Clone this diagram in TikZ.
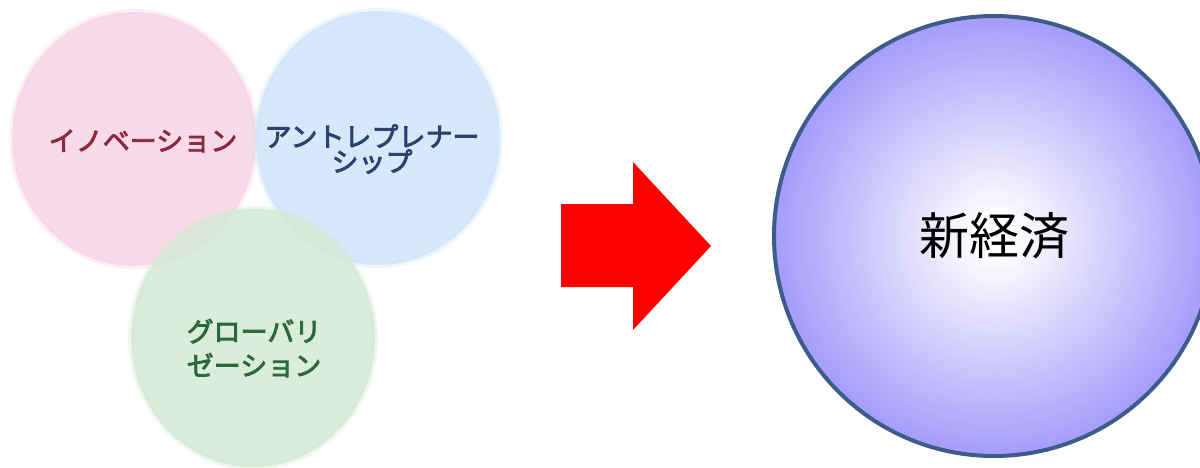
\documentclass[tikz,border=0pt]{standalone}
\usepackage{fontspec}
\usetikzlibrary{shapes.geometric}
\newfontfamily\cjk{Noto Sans CJK JP}
\newfontfamily\cjkb[FakeBold=3]{Noto Sans CJK JP}
\definecolor{pinkfill}{RGB}{248,212,228}
\definecolor{bluefill}{RGB}{206,230,250}
\definecolor{greenfill}{RGB}{212,234,212}
\definecolor{pinktext}{RGB}{140,42,66}
\definecolor{bluetext}{RGB}{44,66,110}
\definecolor{greentext}{RGB}{44,104,62}
\definecolor{bigpurple}{RGB}{160,152,250}
\definecolor{bigedge}{RGB}{62,92,138}
\definecolor{arrowred}{RGB}{255,0,0}
\pgfdeclareradialshading{bigglow}{\pgfpoint{0bp}{0bp}}{color(0bp)=(white); color(2bp)=(white); color(26bp)=(bigpurple); color(50bp)=(bigpurple)}
\tikzset{
  softcircle/.style={ellipse, inner sep=0pt, minimum width=244pt, minimum height=254pt, fill opacity=0.85, draw opacity=0.35, line width=6pt},
  lbl/.style={font=\cjkb\fontsize{27}{25}\selectfont, align=center, inner sep=0pt},
  bigcircle/.style={circle, inner sep=0pt, minimum size=440pt, shading=bigglow, draw=bigedge, line width=4pt},
  bigtext/.style={font=\cjk\fontsize{50}{60}\selectfont, inner sep=0pt}
}
\begin{document}
\begin{tikzpicture}[x=1pt, y=-1pt]
\useasboundingbox (0,0) rectangle (1200,467);
\clip (0,0) rectangle (1200,467);
\fill[white] (0,0) rectangle (1200,467);
% left circles
\node[softcircle, fill=pinkfill, draw=pinkfill] (pink) at (134,139) {};
\node[softcircle, fill=bluefill, draw=bluefill] (blue) at (378,138) {};
\node[softcircle, fill=greenfill, draw=greenfill, minimum height=258pt] (green) at (253,338) {};
\node[lbl, text=pinktext] (ptxt) at (143,141) {イノベーション};
\node[lbl, text=bluetext] (btxt) at (372,149) {アントレプレナー\\シップ};
\node[lbl, text=greentext, font=\cjkb\fontsize{27}{34}\selectfont] (gtxt) at (254,348) {グローバリ\\ゼーション};
% arrow
\fill[arrowred] (561,204) -- (633,204) -- (633,162) -- (711,246) -- (633,330) -- (633,287) -- (561,287) -- cycle;
% big circle
\node[bigcircle] (eco) at (994,236) {};
\node[bigtext] (ecotxt) at (eco.center) {新経済};
\end{tikzpicture}
\end{document}
